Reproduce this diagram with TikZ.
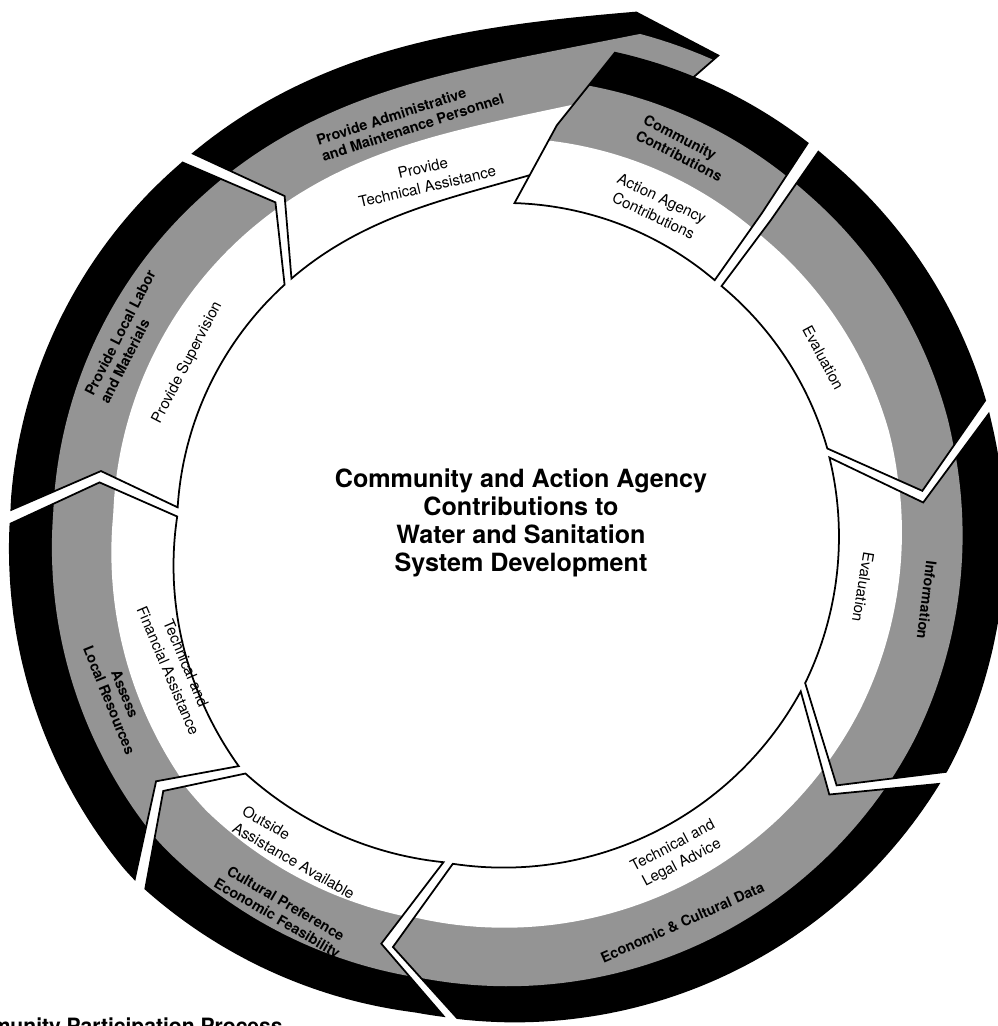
\documentclass[tikz,border=0pt]{standalone}
\usepackage{fontspec}
\setmainfont{TeX Gyre Heros}

\colorlet{dotgray}{black!42}

% junctions of the ring, polar about the hub:
% outer angle / tip angle / inner angle / tip radius / r inner / r white-gray / r gray-black / r outer
\def\jA{178.7/172.8/177.2/409/329/393/453/495}   % assess -> local labor
\def\jB{130.7/124.5/131.5/399/329/393/450/488}   % local labor -> admin
\def\jCt{75/65/74/518/390/450/512/535}           % tip of admin, mostly under the next piece
\def\jCn{77.9/83.6/89.3/406/325/390/450/487}     % straight end of contributions
\def\jD{51.1/50.1/49.1/406/324/388/450/489}      % contributions -> evaluation
\def\jE{14.1/4.3/13.1/418/331/395/455/496}       % evaluation -> information
\def\jF{-29.8/-38.7/-28.2/419/337/398/460/503}   % information -> data
\def\jFf{330.2/321.3/331.8/419/337/398/460/503}  % same one, a turn on
\def\jG{263.5/254.1/260.2/434/340/400/458/492}   % data -> cultural
\def\jH{224.2/216.7/222.5/432/358/412/468/511}   % cultural -> assess

\def\hg{0.8} % half of the gap, degrees

\def\readp#1/#2/#3/#4/#5/#6/#7/#8\relax{%
  \pgfmathsetmacro\pao{#1+\hg}\pgfmathsetmacro\pav{#2+\hg}\pgfmathsetmacro\pai{#3+\hg}%
  \def\prv{#4}\def\pra{#5}\def\prb{#6}\def\prc{#7}\def\prd{#8}}
\def\readn#1/#2/#3/#4/#5/#6/#7/#8\relax{%
  \pgfmathsetmacro\nao{#1-\hg}\pgfmathsetmacro\nav{#2-\hg}\pgfmathsetmacro\nai{#3-\hg}%
  \def\nrv{#4}\def\nra{#5}\def\nrb{#6}\def\nrc{#7}\def\nrd{#8}}
% radius along a piece, from the notch end value #3 to the point end value #2
\def\mkrad#1#2#3{\edef#1{#3+(#2-#3)*(max(0.001,min(1,(\nai-(\noexpand\x))/((\nai)-(\pai)))))^\pw}}

% one arrow piece: point end, notch end, spiral power
\newcommand{\ringseg}[3]{%
  \expandafter\readp#1\relax
  \expandafter\readn#2\relax
  \def\pw{#3}%
  \pgfmathsetmacro\lo{min(\pao,\pav,\pai)-3}%
  \pgfmathsetmacro\hi{max(\nao,\nav,\nai)+3}%
  \mkrad\rfa\pra\nra \mkrad\rfb\prb\nrb \mkrad\rfc\prc\nrc \mkrad\rfd\prd\nrd
  \begin{scope}
    \clip (\pav:\prv) -- plot[domain=\pai:\nai] (\x:{\rfa}) -- (\nav:\nrv)
      -- plot[domain=\nao:\pao] (\x:{\rfd}) -- cycle;
    \fill[black] (0,0) circle (12cm);
    \fill[dotgray] (0,0) -- plot[domain=\lo:\hi] (\x:{\rfc}) -- cycle;
    \fill[white] (0,0) -- plot[domain=\lo:\hi] (\x:{\rfb}) -- cycle;
  \end{scope}
  \draw[segline] (\pav:\prv) -- plot[domain=\pai:\nai] (\x:{\rfa}) -- (\nav:\nrv)
    -- plot[domain=\nao:\pao] (\x:{\rfd}) -- cycle;
}

\begin{document}
\begin{tikzpicture}[x=0.02cm, y=0.02cm, samples=60,
  segline/.style={line width=1pt, line join=miter},
  inlabel/.style={inner sep=0pt, align=center, font=\fontsize{8.6}{11}\selectfont},
  graylabel/.style={inner sep=0pt, align=center, font=\fontsize{8.2}{9.7}\selectfont\bfseries},
  hubtext/.style={inner sep=0pt, align=center, font=\fontsize{14.3}{15.9}\selectfont\bfseries},
  captext/.style={inner sep=0pt, font=\fontsize{12}{14}\selectfont\bfseries}]

	\useasboundingbox (-506,-498) rectangle (491,528);

	% ring pieces, admin first so that contributions lies over its tip
	\ringseg{\jCt}{\jB}{4}
	\ringseg{\jD}{\jCn}{1}
	\ringseg{\jE}{\jD}{1}
	\ringseg{\jF}{\jE}{1}
	\ringseg{\jG}{\jFf}{1}
	\ringseg{\jH}{\jG}{1}
	\ringseg{\jA}{\jH}{1}
	\ringseg{\jB}{\jA}{1}

	% inner (white) band
	\node[inlabel, rotate=13] (pta) at (103:360) {Provide\\Technical Assistance};
	\node[inlabel, rotate=-25.3] (aac) at (64.7:355) {Action Agency\\Contributions};
	\node[inlabel, rotate=-61.8] (evu) at (28.2:360) {Evaluation};
	\node[inlabel, rotate=-99.4] (evr) at (-9.4:362) {Evaluation};
	\node[inlabel, rotate=27.7] (tla) at (-62.3:369) {Technical and\\Legal Advice};
	\node[inlabel, align=left, rotate=-30] (oaa) at (237.4:385) {Outside\\Assistance Available};
	\node[inlabel, rotate=-67] (tfa) at (202.9:357) {Technical and\\Financial Assistance};
	\node[inlabel, rotate=62.6] (ps) at (152.6:359) {Provide Supervision};

	% middle (gray) band
	\node[graylabel, align=left, rotate=18] (pamp) at (103.2:420) {Provide Administrative\\and Maintenance Personnel};
	\node[graylabel, align=left, rotate=-27] (cc) at (65:419) {Community\\Contributions};
	\node[graylabel, rotate=-97] (inf) at (-9.7:427) {Information};
	\node[graylabel, rotate=24] (ecd) at (-65.9:432) {Economic \& Cultural Data};
	\node[graylabel, rotate=-30.4] (cpef) at (239.6:445) {Cultural Preference\\Economic Feasibility};
	\node[graylabel, rotate=-68] (alr) at (203.5:424) {Assess\\Local Resources};
	\node[graylabel, align=left, rotate=63] (pllm) at (153.2:424) {Provide Local Labor\\and Materials};

	% hub and caption
	\node[hubtext] (hub) at (15,5) {Community and Action Agency\\Contributions to\\Water and Sanitation\\System Development};
	\node[captext, anchor=base east] (cap) at (-223,-505) {Community Participation Process};

\end{tikzpicture}
\end{document}
